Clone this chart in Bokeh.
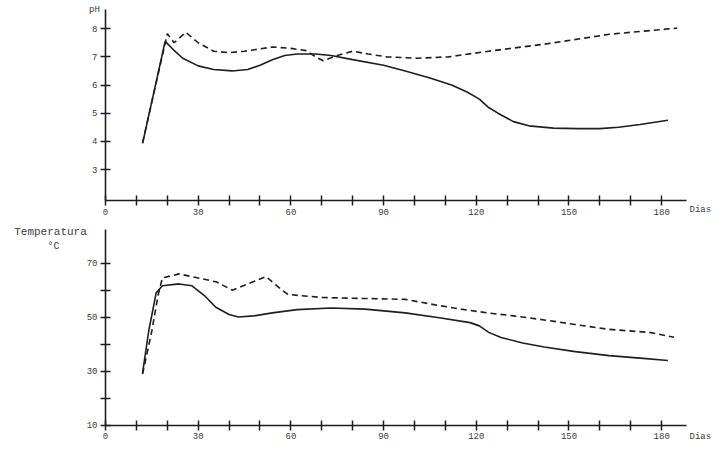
from bokeh.plotting import figure
from bokeh.layouts import column
from bokeh.models import FixedTicker, Label, Range1d
from bokeh.embed import file_html
from bokeh.resources import INLINE

# ---- pH (top chart) ----
ph_solid_days = [12, 19.3, 22, 25, 30, 35, 41, 46, 50, 54, 58, 62, 68, 73, 80, 90, 97,
                 105, 112, 117, 121, 124, 127, 132, 137, 145, 153, 160, 166, 173, 182]
ph_solid = [3.93, 7.55, 7.25, 6.95, 6.68, 6.55, 6.5, 6.55, 6.7, 6.9, 7.05, 7.1, 7.1, 7.05,
            6.9, 6.7, 6.5, 6.25, 6.0, 5.75, 5.5, 5.2, 5.0, 4.7, 4.55, 4.47, 4.45, 4.45,
            4.5, 4.6, 4.75]

ph_dash_days = [12, 20, 22.2, 26, 30, 35, 40, 45, 54, 60, 65, 68, 70.5, 75, 80, 85, 91,
                101, 111, 124, 142, 163, 185]
ph_dash = [3.95, 7.82, 7.5, 7.87, 7.5, 7.2, 7.15, 7.2, 7.35, 7.3, 7.22, 7.0, 6.86, 7.05,
           7.2, 7.1, 7.0, 6.95, 7.0, 7.2, 7.45, 7.8, 8.02]

# ---- Temperatura (bottom chart) ----
t_solid_days = [12, 14, 16.4, 18.4, 23.8, 28, 32, 35.7, 40, 43, 48, 54, 62, 73, 84, 97,
                108, 118, 121, 124, 128, 135, 142, 152, 163, 173, 182]
t_solid = [29.4, 45, 59, 61.6, 62.3, 61.6, 58, 53.7, 51, 50.1, 50.5, 51.6, 52.8, 53.4,
           53, 51.6, 49.8, 48, 46.8, 44.4, 42.5, 40.5, 39, 37.3, 35.8, 34.9, 34]

t_dash_days = [12, 15, 17, 18.4, 23.8, 30, 36, 41, 46, 52, 55, 59, 70, 80, 97, 107.5,
               115, 123.6, 132, 142, 152, 163, 176, 184]
t_dash = [29, 45, 58, 64.5, 66, 64.5, 63, 60, 62.3, 65, 62, 58.4, 57.3, 57, 56.6, 54.4,
          53, 51.6, 50.5, 49, 47.3, 45.5, 44.4, 42.6]

x_major = [0, 30, 60, 90, 120, 150, 180]
x_minor = [10, 20, 40, 50, 70, 80, 100, 110, 130, 140, 160, 170]
ph_major = [3, 4, 5, 6, 7, 8]
t_major = [10, 30, 50, 70]
t_minor = [20, 40, 60]

FONT = "Liberation Mono"
INK = "#1e1e1e"
TXT = "#3c3c3c"


def make_fig(height, yr, ybounds, ymaj, ymin):
    p = figure(width=712, height=height, x_range=Range1d(-33.98, 196.44), y_range=yr,
               output_backend="svg", toolbar_location=None,
               min_border_left=0, min_border_right=0,
               min_border_top=0, min_border_bottom=0)
    p.outline_line_color = None
    p.xgrid.visible = False
    p.ygrid.visible = False
    p.xaxis.ticker = FixedTicker(ticks=x_major, minor_ticks=x_minor)
    p.yaxis.ticker = FixedTicker(ticks=ymaj, minor_ticks=ymin)
    p.xaxis.fixed_location = ybounds[0]
    p.yaxis.fixed_location = 0
    p.xaxis.bounds = (0, 188)
    p.yaxis.bounds = ybounds
    for ax in (p.xaxis[0], p.yaxis[0]):
        ax.axis_line_color = INK
        ax.axis_line_width = 1.6
        ax.major_tick_line_color = INK
        ax.minor_tick_line_color = INK
        ax.major_tick_line_width = 1.5
        ax.minor_tick_line_width = 1.5
        ax.major_tick_in = 5
        ax.major_tick_out = 5
        ax.minor_tick_in = 5
        ax.minor_tick_out = 5
        ax.major_label_text_font = FONT
        ax.major_label_text_font_size = "9px"
        ax.major_label_text_color = TXT
        ax.major_label_standoff = 3
    return p


def add_text(p, x, y, text, align="center", size="9px"):
    p.add_layout(Label(x=x, y=y, text=text, text_font=FONT, text_font_size=size,
                       text_color=TXT, text_align=align, text_baseline="middle"))


p1 = make_fig(226, Range1d(0.977, 9.0), (1.9, 8.68), ph_major, [])
p1.line(ph_solid_days, ph_solid, line_color=INK, line_width=1.6)
p1.line(ph_dash_days, ph_dash, line_color=INK, line_width=1.6, line_dash="6 4")
add_text(p1, -3.56, 8.68, "pH")
add_text(p1, 189.0, 1.58, "Dias", "left")

p2 = make_fig(216, Range1d(3.72, 83.51), (10, 82.4), t_major, t_minor)
p2.line(t_solid_days, t_solid, line_color=INK, line_width=1.6)
p2.line(t_dash_days, t_dash, line_color=INK, line_width=1.6, line_dash="6 4")
add_text(p2, -17.8, 81.3, "Temperatura", size="11px")
add_text(p2, -16.8, 76.1, "°C", size="10px")
add_text(p2, 189.0, 5.93, "Dias", "left")

layout = column(p1, p2, spacing=0)
open("out.html", "w").write(file_html(layout, INLINE))
